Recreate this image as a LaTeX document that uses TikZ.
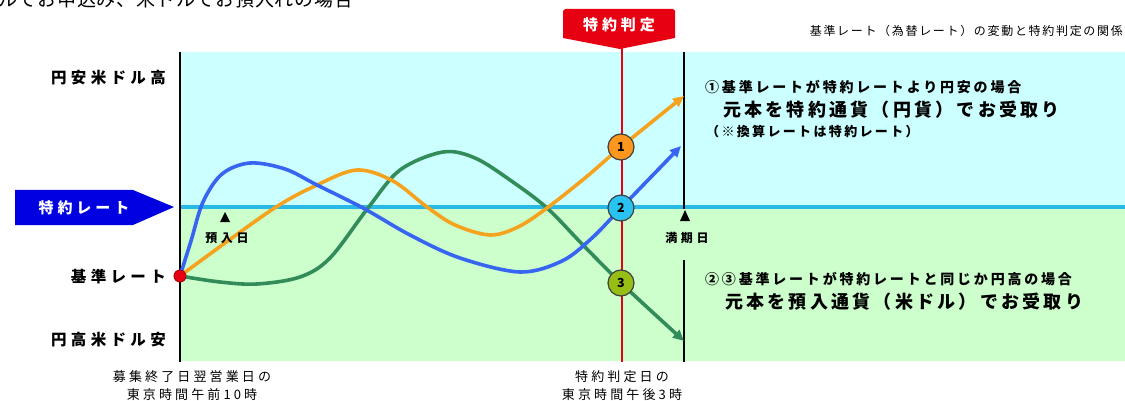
\documentclass[tikz,border=0pt]{standalone}
\usepackage{fontspec}
\setmainfont{Noto Sans CJK JP}
\usetikzlibrary{arrows.meta}
\definecolor{bgcyan}{RGB}{204,255,255}
\definecolor{bggreen}{RGB}{204,255,204}
\definecolor{rateblue}{RGB}{40,185,230}
\definecolor{judgered}{RGB}{230,0,18}
\definecolor{bannerblue}{RGB}{0,0,225}
\definecolor{corange}{RGB}{245,162,30}
\definecolor{cblue}{RGB}{55,100,240}
\definecolor{cgreen}{RGB}{50,140,90}
\definecolor{fillone}{RGB}{255,150,30}
\definecolor{filltwo}{RGB}{40,195,240}
\definecolor{fillthree}{RGB}{150,190,20}
\begin{document}
\begin{tikzpicture}[x=1pt,y=-1pt,
  side/.style={font=\bfseries\fontsize{15.5}{15.5}\selectfont\addfontfeatures{LetterSpace=28},inner sep=0,anchor=east},
  cap1/.style={font=\bfseries\fontsize{14}{14}\selectfont\addfontfeatures{LetterSpace=20},inner sep=0,anchor=west},
  cap2/.style={font=\bfseries\fontsize{18}{18}\selectfont\addfontfeatures{LetterSpace=18},inner sep=0,anchor=west},
  cap3/.style={font=\bfseries\fontsize{13}{13}\selectfont\addfontfeatures{LetterSpace=18},inner sep=0,anchor=west},
  foot/.style={font=\fontsize{13}{13}\selectfont\addfontfeatures{LetterSpace=24},inner sep=0},
  tick/.style={font=\bfseries\fontsize{12}{12}\selectfont\addfontfeatures{LetterSpace=30},inner sep=0},
  bannertext/.style={font=\bfseries\fontsize{15}{15}\selectfont\addfontfeatures{LetterSpace=26},text=white,inner sep=0},
  curve/.style={line width=3.6pt,smooth,tension=0.55},
  marker/.style={circle,draw=black!75,line width=1.2pt,minimum size=26pt,inner sep=0,font=\bfseries\fontsize{12.5}{12.5}\selectfont},
  tri/.style={fill=black}
]
\useasboundingbox (0,0) rectangle (1125,401);
% partially visible title at top
\node[font=\fontsize{19}{19}\selectfont\addfontfeatures{LetterSpace=4},anchor=west,inner sep=0] (toptitle) at (-2,-1) {ルでお申込み、米ドルでお預入れの場合};
% backgrounds
\fill[bgcyan] (180,52) rectangle (1125,207);
\fill[bggreen] (180,207) rectangle (1125,361);
% rate line
\coordinate (rateL) at (180,207);
\coordinate (rateR) at (1125,207);
\draw[rateblue,line width=4.8pt] (rateL) -- (rateR);
% axes
\coordinate (axT) at (180,52);
\coordinate (axB) at (180,362);
\draw[black,line width=1.3pt] (axT) -- (axB);
\coordinate (matT) at (684,52);
\coordinate (matM) at (684,209);
\coordinate (matU) at (684,260);
\coordinate (matB) at (684,362);
\draw[black,line width=1.3pt] (matT) -- (matM);
\draw[black,line width=1.3pt] (matU) -- (matB);
% judgement line
\coordinate (judT) at (622,46);
\coordinate (judB) at (622,362);
\draw[judgered,line width=2.8pt] (judT) -- (judB);
% banner top
\fill[judgered] (565,9) -- (673,9) -- (675,11) -- (675,38) -- (620,49) -- (563,38) -- (563,11) -- cycle;
\node[bannertext] (judge) at (619,25) {特約判定};
% blue banner left
\fill[bannerblue] (15,190) -- (133,190) -- (174,207) -- (133,225) -- (15,225) -- cycle;
\node[bannertext] (rate) at (84,208) {特約レート};
% side labels
\node[side] (high) at (166,78) {円安米ドル高};
\node[side] (base) at (166,277) {基準レート};
\node[side] (low) at (166,340) {円高米ドル安};
% top-right title
\node[font=\fontsize{12}{12}\selectfont\addfontfeatures{LetterSpace=14},anchor=east,inner sep=0] (rtitle) at (1123,31) {基準レート（為替レート）の変動と特約判定の関係};
% red start dot
\node[circle,fill=judgered,draw=red!60!black,line width=0.6pt,minimum size=12pt,inner sep=0] (rd) at (180,276) {};
% curve end coordinates
\coordinate (oend) at (684,96);
\coordinate (bend) at (681,146);
\coordinate (gend) at (684,341);
% curves
\draw[curve,cgreen,-{Triangle[length=11pt,width=10pt]}] plot coordinates {(rd.center) (220,282) (257,284) (300,277) (330,258) (368,208) (400,170) (443,152) (475,158) (510,180) (547,208) (583,245) (621,283) (gend)};
\draw[curve,corange,-{Triangle[length=11pt,width=10pt]}] plot coordinates {(rd.center) (270,211) (317,185) (357,170) (393,181) (427,207) (455,225) (490,235) (518,227) (547,208) (585,178) (621,147) (oend)};
\draw[curve,cblue,-{Triangle[length=11pt,width=10pt]}] plot coordinates {(rd.center) (191,241) (203,202) (222,174) (250,163) (285,169) (317,185) (363,208) (410,235) (460,258) (520,272) (562,261) (592,238) (621,208) (bend)};
\node[circle,fill=judgered,draw=red!60!black,line width=0.6pt,minimum size=12pt,inner sep=0] (rdtop) at (rd) {};
% circles
\node[marker,fill=fillone] (c1) at (621,147) {1};
\node[marker,fill=filltwo] (c2) at (621,208) {2};
\node[marker,fill=fillthree] (c3) at (621,283) {3};
% tick markers
\coordinate (dep) at (225,212);
\coordinate (mat) at (685,210);
\fill[tri] (dep) -- ++(5,10) -- ++(-10,0) -- cycle;
\fill[tri] (mat) -- ++(5,11) -- ++(-10,0) -- cycle;
\node[tick] (deplbl) at (227,238) {預入日};
\node[tick] (matlbl) at (687,238) {満期日};
% right captions
\node[cap1] (r1) at (705,87) {①基準レートが特約レートより円安の場合};
\node[cap2] (r2) at (723,110) {元本を特約通貨（円貨）でお受取り};
\node[cap3] (r3) at (706,132) {（※換算レートは特約レート）};
\node[cap1] (r4) at (705,279) {②③基準レートが特約レートと同じか円高の場合};
\node[cap2] (r5) at (725,302) {元本を預入通貨（米ドル）でお受取り};
% bottom labels
\node[foot] (b1) at (192,377) {募集終了日翌営業日の};
\node[foot] (b2) at (192,395) {東京時間午前10時};
\node[foot] (b3) at (622,377) {特約判定日の};
\node[foot] (b4) at (622,395) {東京時間午後3時};
\end{tikzpicture}
\end{document}
